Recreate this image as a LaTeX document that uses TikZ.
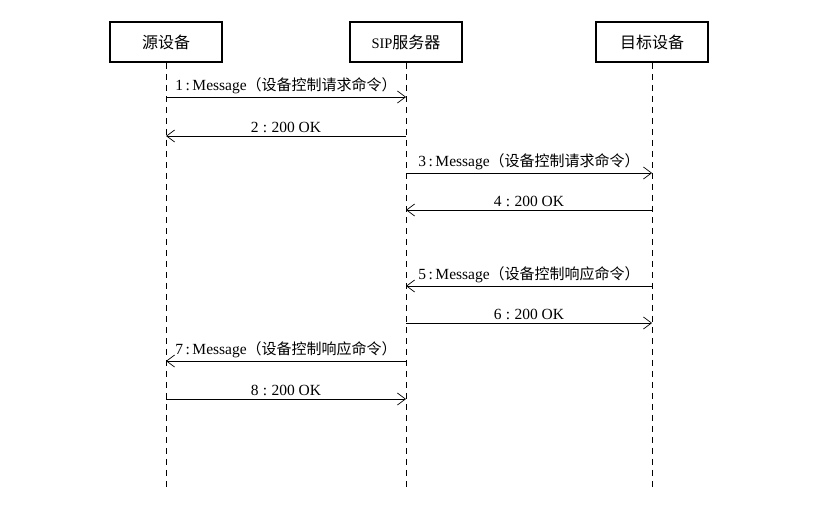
\documentclass[tikz,border=0pt]{standalone}
\usepackage{fontspec}
\setmainfont{Liberation Serif}
\newfontfamily\cjk{Noto Sans CJK SC}
\newcommand\cjl[1]{{\cjk\fontsize{15}{17}\selectfont #1}}
\newcommand\cjb[1]{{\cjk\fontsize{16}{18}\selectfont #1}}
\usetikzlibrary{arrows.meta}
\begin{document}
\begin{tikzpicture}[x=1pt,y=-1pt,
  actor/.style={draw,line width=1.6pt,minimum width=112pt,minimum height=40pt,inner sep=0pt,font=\fontsize{14.5}{16}\selectfont},
  life/.style={dashed,dash pattern=on 6pt off 5pt,line width=0.7pt},
  msg/.style={line width=0.7pt,-{Straight Barb[length=8pt,width=12pt,line width=0.7pt]}},
  lbl/.style={above=1.5pt,midway,font=\fontsize{15.5}{17}\selectfont,inner sep=1pt}]
\useasboundingbox (0,0) rectangle (821,511);
\node[actor] (A) at (166,42) {\cjb{源设备}};
\node[actor] (B) at (406,42) {SIP\cjb{服务器}};
\node[actor] (C) at (652,42) {\cjb{目标设备}};
\coordinate (Ae) at (166,490);
\coordinate (Be) at (406,490);
\coordinate (Ce) at (652,490);
\draw[life] (A.south) -- (Ae);
\draw[life] (B.south) -- (Be);
\draw[life] (C.south) -- (Ce);
\foreach \n/\y in {1/97,2/136,3/173,4/210,5/286,6/323,7/361,8/399}{
  \coordinate (a\n) at (166,\y);
  \coordinate (b\n) at (406,\y);
  \coordinate (c\n) at (652,\y);
}
\draw[msg] (a1) -- (b1) node[lbl] {1\,:\,Message\cjl{（设备控制请求命令）}};
\draw[msg] (b2) -- (a2) node[lbl] {2\;:\;200 OK};
\draw[msg] (b3) -- (c3) node[lbl] {3\,:\,Message\cjl{（设备控制请求命令）}};
\draw[msg] (c4) -- (b4) node[lbl] {4\;:\;200 OK};
\draw[msg] (c5) -- (b5) node[lbl] {5\,:\,Message\cjl{（设备控制响应命令）}};
\draw[msg] (b6) -- (c6) node[lbl] {6\;:\;200 OK};
\draw[msg] (b7) -- (a7) node[lbl] {7\,:\,Message\cjl{（设备控制响应命令）}};
\draw[msg] (a8) -- (b8) node[lbl] {8\;:\;200 OK};
\end{tikzpicture}
\end{document}
